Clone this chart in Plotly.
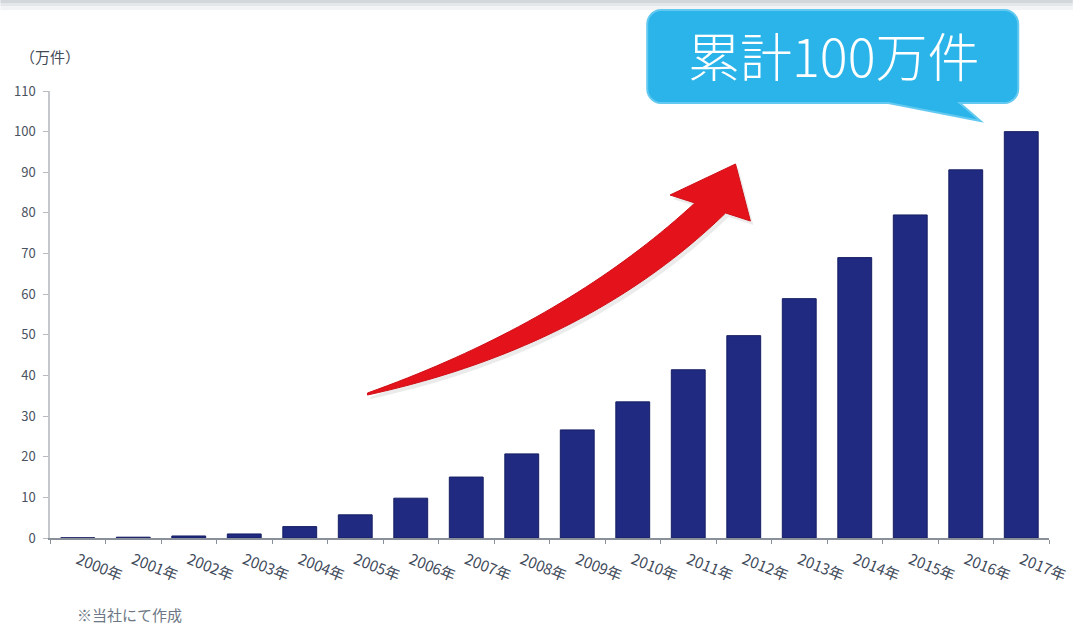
import plotly.graph_objects as go
import numpy as np

# ---------------- data ----------------
years = ["2000年", "2001年", "2002年", "2003年", "2004年", "2005年", "2006年", "2007年", "2008年",
         "2009年", "2010年", "2011年", "2012年", "2013年", "2014年", "2015年", "2016年", "2017年"]
cumulative = [0.05, 0.2, 0.5, 1.0, 2.8, 5.7, 9.8, 15.0, 20.7, 26.6, 33.5, 41.4, 49.8, 58.9, 69.0, 79.5, 90.6, 100.0]
y_ticks = [0, 10, 20, 30, 40, 50, 60, 70, 80, 90, 100, 110]
unit_label = "（万件）"
callout_text = "累計100万件"
footnote = "※当社にて作成"

# ---------------- layout geometry ----------------
W, H = 1081, 624
ML, MR, MT, MB = 50, 24, 91, 86
PW, PH = W - ML - MR, H - MT - MB


def px2paper(x, y):
    return (x - ML) / PW, (H - MB - y) / PH


def path_from(points, close=True):
    parts = []
    for i, (x, y) in enumerate(points):
        u, v = px2paper(x, y)
        parts.append(("M" if i == 0 else "L") + f"{u:.5f},{v:.5f}")
    return " ".join(parts) + (" Z" if close else "")


def qbez(p0, p1, p2, n=40):
    t = np.linspace(0, 1, n)
    x = (1 - t) ** 2 * p0[0] + 2 * (1 - t) * t * p1[0] + t ** 2 * p2[0]
    y = (1 - t) ** 2 * p0[1] + 2 * (1 - t) * t * p1[1] + t ** 2 * p2[1]
    return list(zip(x, y))


fig = go.Figure()
fig.add_trace(go.Bar(
    x=years, y=cumulative,
    marker=dict(color="#1f2a80", line=dict(color="#161f63", width=1)),
    hoverinfo="x+y",
))

shapes = []

# soft grey band at top of the picture
for (y0, y1, c) in [(0, 3, "#d3d7dc"), (3, 6, "#e4e7ea"), (6, 10, "#f2f3f5")]:
    u0, v0 = px2paper(0, y1)
    u1, v1 = px2paper(W, y0)
    shapes.append(dict(type="rect", xref="paper", yref="paper", x0=u0, x1=u1, y0=v0, y1=v1,
                       fillcolor=c, line=dict(width=0), layer="below"))

# red curved arrow
upper = qbez((370, 393), (570, 322), (700, 203))
lower = qbez((370, 395), (592, 347), (731, 213))
head = [(675, 195), (741, 164), (756, 221)]
arrow_pts = upper + [head[0], head[1], head[2]] + lower[::-1]
shadow_pts = [(x + 3, y + 4) for x, y in arrow_pts]
shapes.append(dict(type="path", xref="paper", yref="paper", path=path_from(shadow_pts),
                   fillcolor="rgba(120,120,120,0.15)", line=dict(width=0)))
shapes.append(dict(type="path", xref="paper", yref="paper", path=path_from(arrow_pts),
                   fillcolor="#e3121b", line=dict(color="#d00e16", width=1)))

# callout bubble
x0, x1, y0, y1, r = 652, 1026, 10, 103, 14
bubble = []
def arc(cx, cy, a0, a1, n=8):
    return [(cx + r * np.cos(a), cy + r * np.sin(a)) for a in np.linspace(a0, a1, n)]
bubble += arc(x0 + r, y0 + r, np.pi, 1.5 * np.pi)
bubble += arc(x1 - r, y0 + r, 1.5 * np.pi, 2 * np.pi)
bubble += arc(x1 - r, y1 - r, 0, 0.5 * np.pi)
bubble += [(967, y1), (988, 121), (895, y1)]
bubble += arc(x0 + r, y1 - r, 0.5 * np.pi, np.pi)
shapes.append(dict(type="path", xref="paper", yref="paper", path=path_from(bubble),
                   fillcolor="#2ab4e9", line=dict(color="#63c9f0", width=2)))

annotations = []
u, v = px2paper(840, 55)
annotations.append(dict(text=callout_text, xref="paper", yref="paper", x=u, y=v,
                        xanchor="center", yanchor="middle", showarrow=False,
                        font=dict(size=52, color="white", family="Noto Sans CJK JP", weight=300)))
u, v = px2paper(50, 57)
annotations.append(dict(text=unit_label, xref="paper", yref="paper", x=u, y=v,
                        xanchor="center", yanchor="middle", showarrow=False,
                        font=dict(size=15, color="#444a55", family="Noto Sans CJK JP")))
u, v = px2paper(75, 614)
annotations.append(dict(text=footnote, xref="paper", yref="paper", x=u, y=v,
                        xanchor="left", yanchor="middle", showarrow=False,
                        font=dict(size=15, color="#6d7785", family="Noto Sans CJK JP")))

fig.update_layout(
    width=W, height=H,
    margin=dict(l=ML, r=MR, t=MT, b=MB, pad=0),
    paper_bgcolor="white", plot_bgcolor="white",
    showlegend=False, bargap=0.39,
    font=dict(family="Noto Sans CJK JP", color="#444a55"),
    shapes=shapes, annotations=annotations,
    xaxis=dict(type="category", tickson="boundaries", ticks="outside", ticklen=4,
               tickcolor="#8a909a", showline=True, linecolor="#8a909a", linewidth=1.5,
               tickangle=22, tickfont=dict(size=15, color="#404a5a"), showgrid=False,
               ticklabelstandoff=6, fixedrange=True),
    yaxis=dict(range=[0, 110], tickvals=y_ticks, ticks="outside", ticklen=5,
               tickcolor="#b8bcc2", showline=True, linecolor="#c4c8cd", linewidth=1.5,
               showgrid=False, zeroline=False, ticklabelstandoff=5,
               tickfont=dict(size=13, color="#4a5260"), fixedrange=True),
)

fig.write_html("out.html")
